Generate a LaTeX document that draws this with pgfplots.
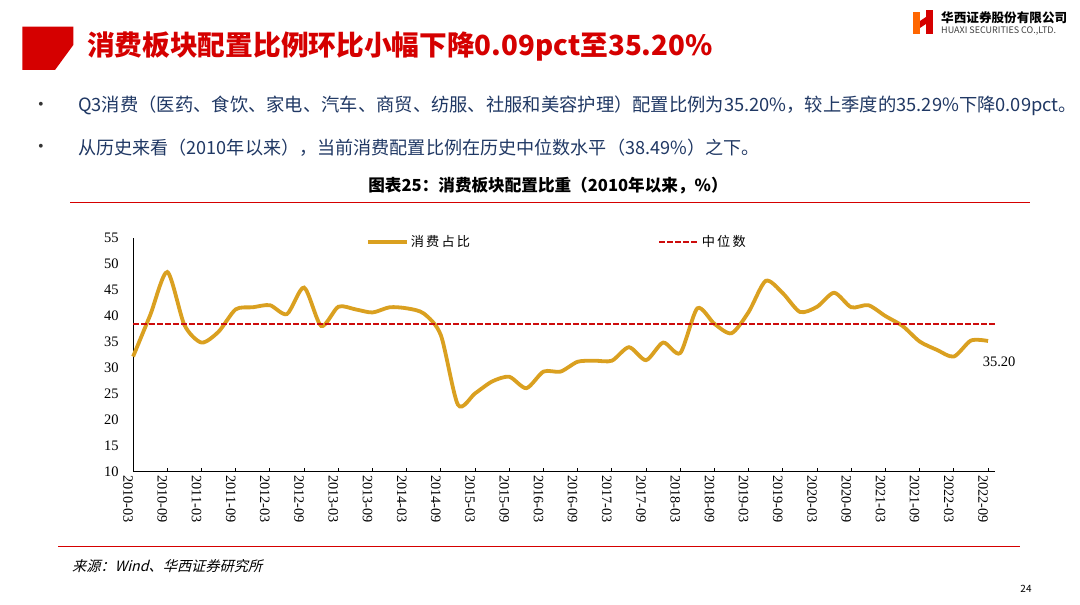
\documentclass[border=0pt]{standalone}
\usepackage{fontspec}
\setmainfont{Liberation Serif}
\newfontfamily\cjk{Noto Sans CJK SC}
\newfontfamily\cjkit[FakeSlant=0.25]{Noto Sans CJK SC}
\usepackage{pgfplots}
\pgfplotsset{compat=1.18}
\definecolor{hxred}{RGB}{213,0,0}
\definecolor{gold}{RGB}{218,160,32}
\definecolor{navy}{RGB}{32,56,100}
\definecolor{medred}{RGB}{205,12,12}
\pgfplotstableread{
x y
0 32.2
1 40.2
2 48.5
3 38.3
4 34.9
5 37.0
6 41.3
7 41.7
8 42.1
9 40.4
10 45.5
11 38.1
12 41.8
13 41.3
14 40.7
15 41.7
16 41.5
17 40.5
18 36.3
19 22.9
20 25.1
21 27.4
22 28.3
23 26.1
24 29.3
25 29.3
26 31.2
27 31.4
28 31.4
29 34.0
30 31.5
31 34.9
32 32.9
33 41.5
34 38.5
35 36.7
36 40.8
37 46.8
38 44.4
39 40.8
40 41.8
41 44.5
42 41.7
43 42.1
44 40.0
45 38.1
46 35.1
47 33.5
48 32.2
49 35.29
50 35.20
}\consdata
\begin{document}
\begin{tikzpicture}[x=1pt,y=1pt]
\useasboundingbox (0,0) rectangle (1080,605);
\path[fill=white] (0,0) rectangle (1080,605);
% header shape
\fill[hxred] (22.3,605-26.7) -- (73.3,605-26.7) -- (73.3,605-45) -- (55,605-70) -- (22.3,605-70) -- cycle;
\node[anchor=west, inner sep=0, text=hxred, font=\cjk\bfseries\fontsize{27.7}{30}\selectfont] at (87,605-47) {消费板块配置比例环比小幅下降0.09pct至35.20\%};
% logo
\fill[orange!80!red] (913,605-12) rectangle (920,605-34);
\fill[hxred] (926,605-10) rectangle (933,605-34);
\fill[hxred] (920,605-21) -- (926,605-17) -- (926,605-24) -- (920,605-28) -- cycle;
\node[anchor=west, inner sep=0, font=\cjk\bfseries\fontsize{12.6}{14}\selectfont] at (941,605-18) {华西证券股份有限公司};
\node[anchor=west, inner sep=0, text=black!75, font=\cjk\fontsize{9}{10}\selectfont] at (941,605-31) {HUAXI SECURITIES CO.,LTD.};
% bullets
\node[text=black!80, font=\fontsize{16}{18}\selectfont] at (41,605-106) {•};
\node[text=black!80, font=\fontsize{16}{18}\selectfont] at (41,605-148) {•};
\node[anchor=west, inner sep=0, text=navy, font=\cjk\fontsize{18.3}{20}\selectfont] at (78,605-106) {Q3消费（医药、食饮、家电、汽车、商贸、纺服、社服和美容护理）配置比例为35.20\%，较上季度的35.29\%下降0.09pct。};
\node[anchor=west, inner sep=0, text=navy, font=\cjk\fontsize{18.1}{20}\selectfont] at (78,605-148) {从历史来看（2010年以来），当前消费配置比例在历史中位数水平（38.49\%）之下。};
% chart title
\node[inner sep=0, font=\cjk\bfseries\fontsize{16.6}{18}\selectfont] at (548,605-186) {图表25：消费板块配置比重（2010年以来，\%）};
\draw[hxred, line width=1.3pt] (70,605-202.7) -- (1030,605-202.7);
\draw[hxred, line width=1.3pt] (58,605-546.7) -- (1020,605-546.7);
\node[anchor=west, inner sep=0, font=\cjkit\fontsize{14.2}{16}\selectfont] at (72,605-566) {来源：Wind、华西证券研究所};
\node[inner sep=0, font=\cjk\fontsize{10}{12}\selectfont] at (1026,605-589) {24};
\begin{axis}[
  at={(133.1pt,133.3pt)}, anchor=origin,
  scale only axis, width=861.8pt, height=233.4pt,
  xmin=0, xmax=50.4, ymin=10, ymax=55,
  axis lines=left, axis line style={-, line width=1.1pt, black},
  xtick={0,2,...,50},
  xticklabels={2010-03,2010-09,2011-03,2011-09,2012-03,2012-09,2013-03,2013-09,2014-03,2014-09,2015-03,2015-09,2016-03,2016-09,2017-03,2017-09,2018-03,2018-09,2019-03,2019-09,2020-03,2020-09,2021-03,2021-09,2022-03,2022-09},
  x tick label style={rotate=-90, anchor=west, yshift=-5pt, font=\fontsize{14.3}{14}\selectfont},
  ytick={10,15,...,55},
  y tick style={draw=none},
  y tick label style={xshift=-11pt, font=\fontsize{14.5}{15}\selectfont},
  /pgf/number format/assume math mode=true,
  tick align=inside, major tick length=4pt,
  x tick style={black, line width=1pt},
  legend columns=2,
  legend style={draw=none, fill=none, at={(0.27,0.984)}, anchor=west, inner sep=0pt,
    font=\cjk\fontsize{13.2}{14}\selectfont,
    /tikz/every even column/.append style={column sep=186pt}},
  legend image code/.code={\draw[#1] (0pt,0pt) -- (39pt,0pt);},
  clip=false,
]
\addplot[gold, line width=3.8pt, smooth, tension=0.45, mark=none] table[x=x,y=y] {\consdata};
\addlegendentry{消\,费\,占\,比}
\addplot[medred, line width=2.6pt, dash pattern=on 5.5pt off 2.5pt, mark=none] coordinates {(0,38.49) (50.4,38.49)};
\addlegendentry{中\,位\,数}
\node[font=\fontsize{14.5}{15}\selectfont, inner sep=0] at (axis cs:50.65,31.2) {35.20};
\end{axis}
\end{tikzpicture}
\end{document}
